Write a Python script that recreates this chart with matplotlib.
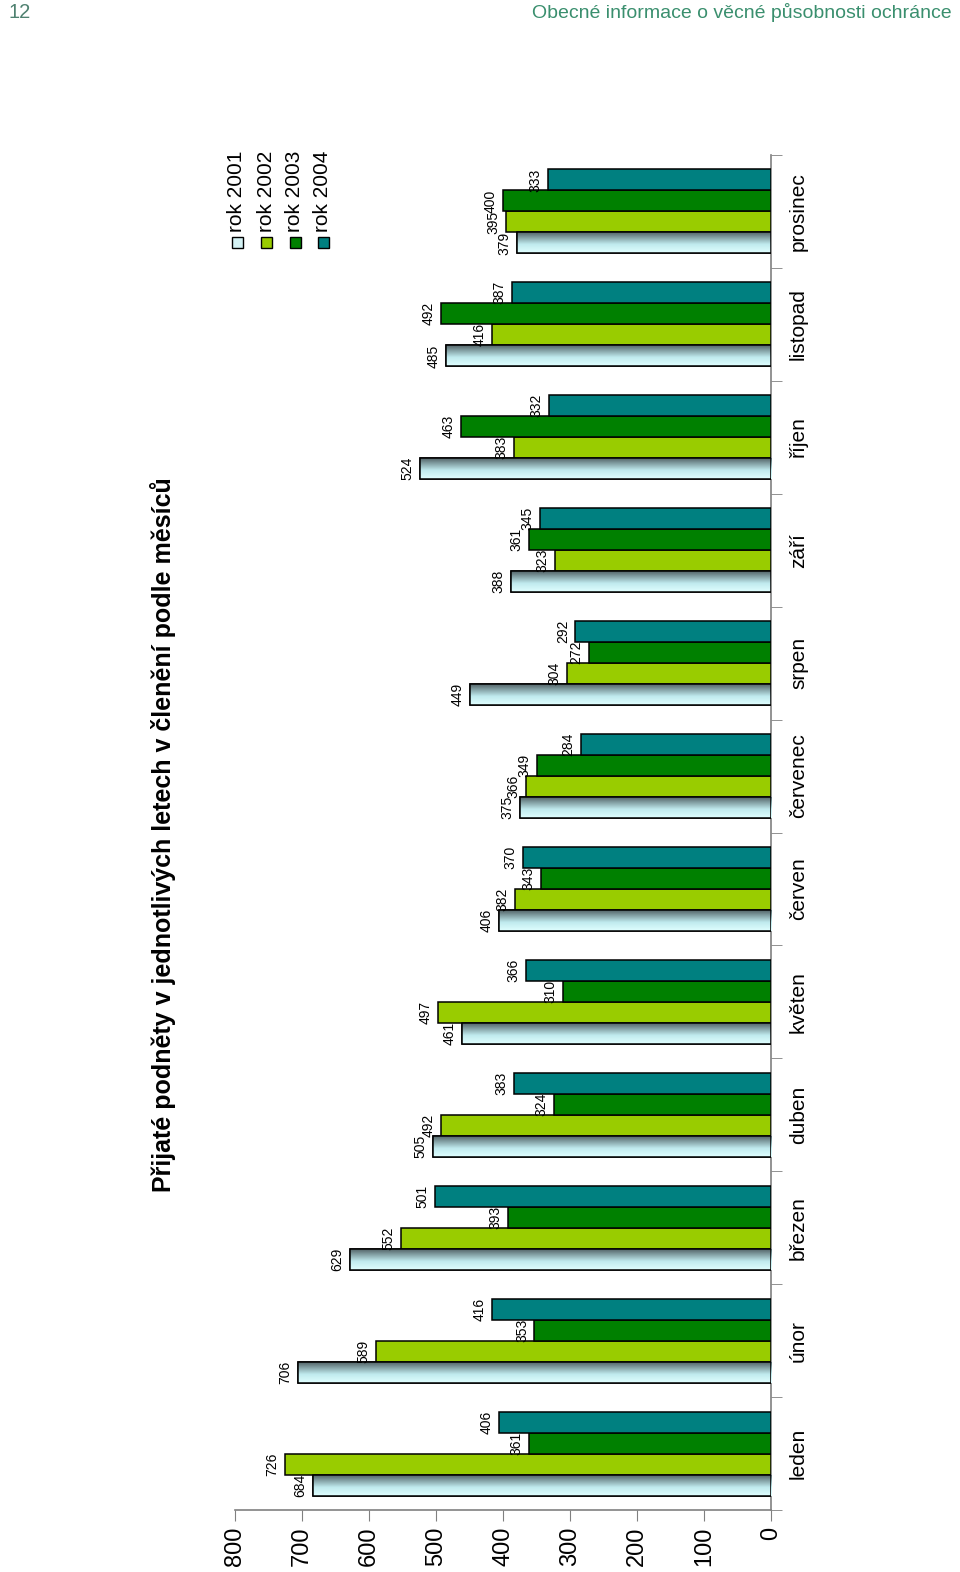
import numpy as np
import matplotlib
matplotlib.use("Agg")
import matplotlib.pyplot as plt
from matplotlib.patches import Rectangle
from matplotlib.colors import to_rgb

plt.rcParams['font.family'] = ['Liberation Sans', 'DejaVu Sans']

months = ["leden", "únor", "březen", "duben", "květen", "červen",
          "červenec", "srpen", "září", "říjen", "listopad", "prosinec"]
series_names = ["rok 2001", "rok 2002", "rok 2003", "rok 2004"]
rok2001 = [684, 706, 629, 505, 461, 406, 375, 449, 388, 524, 485, 379]
rok2002 = [726, 589, 552, 492, 497, 382, 366, 304, 323, 383, 416, 395]
rok2003 = [361, 353, 393, 324, 310, 343, 349, 272, 361, 463, 492, 400]
rok2004 = [406, 416, 501, 383, 366, 370, 284, 292, 345, 332, 387, 333]
value_ticks = [0, 100, 200, 300, 400, 500, 600, 700, 800]
title = "Přijaté podněty v jednotlivých letech v členění podle měsíců"
header_left = "12"
header_right = "Obecné informace o věcné působnosti ochránce"

series = [rok2001, rok2002, rok2003, rok2004]
colors = [None, "#99cc00", "#008000", "#008080"]
grad_top = np.array(to_rgb("#4a5a5e"))
grad_mid = np.array(to_rgb("#c0eaee"))
grad_bot = np.array(to_rgb("#e0ffff"))

W, H = 960, 1572
fig = plt.figure(figsize=(W / 100, H / 100), dpi=100)

ax_l, ax_r, ax_t, ax_b = 235, 771, 155, 1510
ax = fig.add_axes([ax_l / W, (H - ax_b) / H, (ax_r - ax_l) / W, (ax_b - ax_t) / H])

bw = 0.186
y = np.arange(len(months))
N = 64
grad = np.zeros((N, 1, 3))
for i in range(N):
    s = 1 - i / (N - 1.0)  # distance from top: 0 top, 1 bottom
    if s < 0.6:
        c = grad_top + (grad_mid - grad_top) * (s / 0.6)
    else:
        c = grad_mid + (grad_bot - grad_mid) * ((s - 0.6) / 0.4)
    grad[i, 0, :] = c

for k, vals in enumerate(series):
    pos = y + (k - 1.5) * bw
    if k == 0:
        bars = ax.barh(pos, vals, height=bw, color=grad_bot, edgecolor="black", linewidth=1.1, zorder=3)
        for b, p, v in zip(bars, pos, vals):
            im = ax.imshow(grad, extent=(0, v, p - bw / 2, p + bw / 2), origin="lower",
                           aspect="auto", zorder=3.5, interpolation="bilinear")
            im.set_clip_path(b)
            r = Rectangle((0, p - bw / 2), v, bw, fill=False, edgecolor="black", linewidth=1.1, zorder=4)
            ax.add_patch(r)
    else:
        ax.barh(pos, vals, height=bw, color=colors[k], edgecolor="black", linewidth=1.1, zorder=3)
    for p, v in zip(pos, vals):
        ax.annotate(str(v), xy=(v, p), xytext=(-4, 0), textcoords="offset points",
                    rotation=90, ha="right", va="center", fontsize=10, zorder=6)

ax.set_xlim(800, 0)
ax.set_ylim(-0.5, len(months) - 0.5)

for s in ["left", "top"]:
    ax.spines[s].set_visible(False)
for s in ["right", "bottom"]:
    ax.spines[s].set_color("#808080")
    ax.spines[s].set_linewidth(1.2)

ax.set_xticks(value_ticks)
ax.set_xticklabels([str(v) for v in value_ticks], rotation=90, fontsize=17)
ax.tick_params(axis="x", direction="out", length=8, color="#808080", pad=4)

ax.yaxis.tick_right()
ax.set_yticks(y)
ax.set_yticklabels(months, rotation=90, va="center", fontsize=15)
ax.tick_params(axis="y", which="major", length=0, pad=13)
ax.set_yticks(np.arange(-0.5, len(months), 1.0), minor=True)
ax.tick_params(axis="y", which="minor", direction="out", length=8, color="#808080")

# title
fig.text(163 / W, (H - 835) / H, title, rotation=90, ha="center", va="center",
         fontsize=18, fontweight="bold")

# legend
leg_x = [237, 266, 295, 323]
for k, (lx, name) in enumerate(zip(leg_x, series_names)):
    sq = 11
    fc = "#d4f2f4" if k == 0 else colors[k]
    fig.patches.append(Rectangle(((lx - sq / 2) / W, (H - 248) / H), sq / W, sq / H,
                                 transform=fig.transFigure, facecolor=fc, edgecolor="black",
                                 linewidth=1.0))
    fig.text(lx / W, (H - 232) / H, name, rotation=90, ha="center", va="bottom", fontsize=15)

# header
hcol = "#3a8f6e"
fig.text(8 / W, (H - 3) / H, header_left, ha="left", va="top", fontsize=14.5, color="#4f8170",
         family=["Liberation Sans Narrow", "Liberation Sans"])
fig.text(952 / W, (H - 3) / H, header_right, ha="right", va="top", fontsize=14, color=hcol,
         family=["Liberation Sans Narrow", "Liberation Sans"])

fig.savefig("out.png", dpi=100)
